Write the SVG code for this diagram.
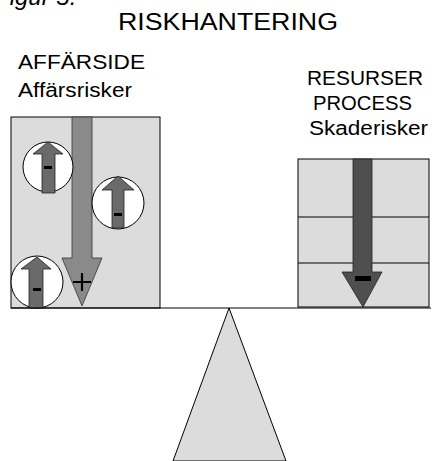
<svg xmlns="http://www.w3.org/2000/svg" width="434" height="461" viewBox="0 0 434 461">
<style>
text{font-family:"Liberation Sans",Arial,sans-serif;fill:#000}
.box{fill:#dcdcdc;stroke:#000;stroke-width:1}
.circ{fill:#fff;stroke:#000;stroke-width:1}
.sarr{fill:#6a6a6a;stroke:#222;stroke-width:0.8}
.minus{fill:#000}
</style>
<rect width="434" height="461" fill="#fff"/>
<text x="-5" y="5" font-size="24" font-style="italic" fill="#222">Figur 5:</text>
<text x="228" y="30" font-size="23" text-anchor="middle" textLength="220" lengthAdjust="spacingAndGlyphs">RISKHANTERING</text>
<g id="affarside">
<text x="18" y="69" font-size="20" textLength="127" lengthAdjust="spacingAndGlyphs">AFFÄRSIDE</text>
<text x="18" y="97" font-size="20" textLength="114" lengthAdjust="spacingAndGlyphs">Affärsrisker</text>
<rect class="box" x="11" y="117" width="149" height="191"/>
<polygon points="72,117 92,117 92,258 102,258 82,306 62,258 72,258" fill="#8a8a8a" stroke="#333" stroke-width="0.8"/>
<path d="M73,282 H91 M82,273 V291" stroke="#000" stroke-width="2.2"/>
<circle class="circ" cx="48" cy="167" r="25"/>
<polygon class="sarr" points="42,193 55,193 55,154 63,154 48,142 33,154 42,154"/>
<rect class="minus" x="44" y="166" width="8" height="3"/>
<circle class="circ" cx="118" cy="203" r="26"/>
<polygon class="sarr" points="112,228 124,228 124,190 134,190 118,176 102,190 112,190"/>
<rect class="minus" x="114" y="213" width="8" height="3"/>
<circle class="circ" cx="37" cy="282" r="26"/>
<polygon class="sarr" points="29,308 43,308 43,269 51,269 37,257 21,269 29,269"/>
<rect class="minus" x="33" y="288" width="8" height="3"/>
</g>
<g id="resurser">
<text x="307" y="85" font-size="20" textLength="116" lengthAdjust="spacingAndGlyphs">RESURSER</text>
<text x="313" y="110" font-size="20" textLength="99" lengthAdjust="spacingAndGlyphs">PROCESS</text>
<text x="309" y="135" font-size="20" textLength="119" lengthAdjust="spacingAndGlyphs">Skaderisker</text>
<rect class="box" x="298" y="159" width="131" height="148"/>
<path d="M298,217 H429 M298,263 H429" stroke="#000" stroke-width="1"/>
<polygon points="353,159 372,159 372,272 382,272 363,307 342,272 353,272" fill="#4f4f4f" stroke="#222" stroke-width="0.8"/>
<rect class="minus" x="355" y="276" width="16" height="5"/>
</g>
<g id="balance">
<line x1="11" y1="308" x2="431" y2="308" stroke="#000" stroke-width="1"/>
<polygon points="229,308 286,461 173,461" fill="#dcdcdc" stroke="#000" stroke-width="1"/>
</g>
</svg>
